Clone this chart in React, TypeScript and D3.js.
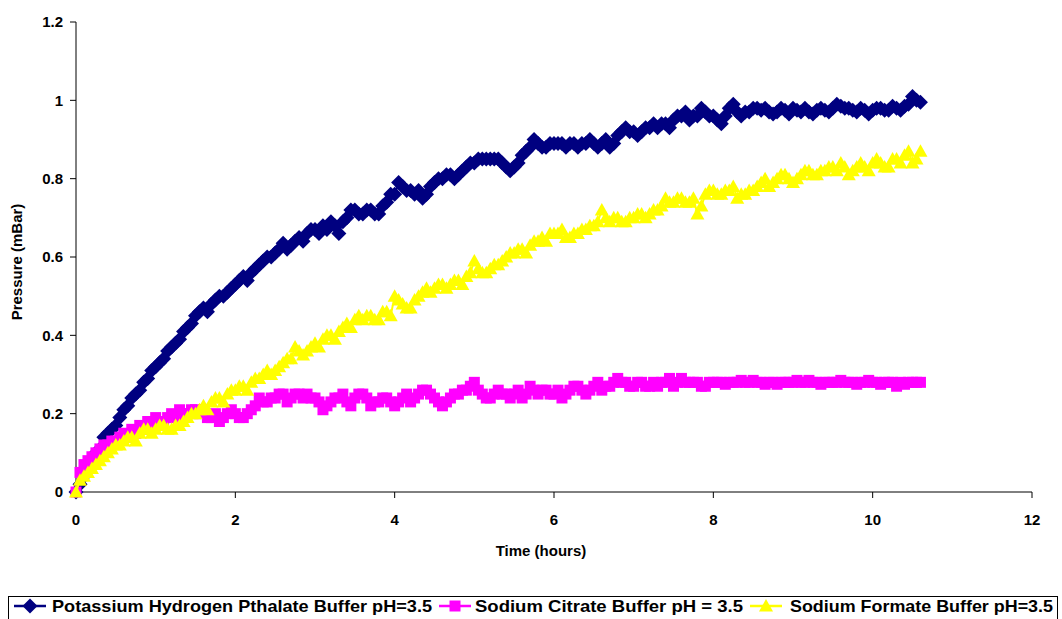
import React from "react";
import * as d3 from "d3";

// sample times (hours)
const times = [
  0.0, 0.05, 0.1, 0.15, 0.2, 0.25, 0.3, 0.35, 0.4, 0.45, 0.5, 0.55, 0.6, 0.65, 0.7, 0.75, 0.8, 0.85, 0.9, 0.95,
  1.0, 1.05, 1.1, 1.15, 1.2, 1.25, 1.3, 1.35, 1.4, 1.45, 1.5, 1.55, 1.6, 1.65, 1.7, 1.75, 1.8, 1.85, 1.9, 1.95,
  2.0, 2.05, 2.1, 2.15, 2.2, 2.25, 2.3, 2.35, 2.4, 2.45, 2.5, 2.55, 2.6, 2.65, 2.7, 2.75, 2.8, 2.85, 2.9, 2.95,
  3.0, 3.05, 3.1, 3.15, 3.2, 3.25, 3.3, 3.35, 3.4, 3.45, 3.5, 3.55, 3.6, 3.65, 3.7, 3.75, 3.8, 3.85, 3.9, 3.95,
  4.0, 4.05, 4.1, 4.15, 4.2, 4.25, 4.3, 4.35, 4.4, 4.45, 4.5, 4.55, 4.6, 4.65, 4.7, 4.75, 4.8, 4.85, 4.9, 4.95,
  5.0, 5.05, 5.1, 5.15, 5.2, 5.25, 5.3, 5.35, 5.4, 5.45, 5.5, 5.55, 5.6, 5.65, 5.7, 5.75, 5.8, 5.85, 5.9, 5.95,
  6.0, 6.05, 6.1, 6.15, 6.2, 6.25, 6.3, 6.35, 6.4, 6.45, 6.5, 6.55, 6.6, 6.65, 6.7, 6.75, 6.8, 6.85, 6.9, 6.95,
  7.0, 7.05, 7.1, 7.15, 7.2, 7.25, 7.3, 7.35, 7.4, 7.45, 7.5, 7.55, 7.6, 7.65, 7.7, 7.75, 7.8, 7.85, 7.9, 7.95,
  8.0, 8.05, 8.1, 8.15, 8.2, 8.25, 8.3, 8.35, 8.4, 8.45, 8.5, 8.55, 8.6, 8.65, 8.7, 8.75, 8.8, 8.85, 8.9, 8.95,
  9.0, 9.05, 9.1, 9.15, 9.2, 9.25, 9.3, 9.35, 9.4, 9.45, 9.5, 9.55, 9.6, 9.65, 9.7, 9.75, 9.8, 9.85, 9.9, 9.95,
  10.0, 10.05, 10.1, 10.15, 10.2, 10.25, 10.3, 10.35, 10.4, 10.45, 10.5, 10.55, 10.6,
];

// Potassium Hydrogen Pthalate (mBar)
const khpValues = [
  0.0, 0.02, 0.04, 0.06, 0.08, 0.1, 0.11, 0.14, 0.15, 0.16, 0.17, 0.19, 0.21, 0.22, 0.24, 0.25, 0.26, 0.28, 0.29, 0.31,
  0.32, 0.33, 0.34, 0.36, 0.37, 0.38, 0.39, 0.41, 0.42, 0.43, 0.45, 0.46, 0.47, 0.46, 0.48, 0.49, 0.5, 0.5, 0.51, 0.52,
  0.53, 0.54, 0.55, 0.54, 0.56, 0.57, 0.58, 0.59, 0.6, 0.6, 0.61, 0.62, 0.635, 0.62, 0.63, 0.64, 0.65, 0.64, 0.66, 0.67,
  0.67, 0.66, 0.68, 0.67, 0.69, 0.68, 0.66, 0.69, 0.7, 0.72, 0.72, 0.71, 0.71, 0.72, 0.72, 0.71, 0.71, 0.73, 0.74, 0.76,
  0.76, 0.79, 0.78, 0.77, 0.77, 0.76, 0.77, 0.75, 0.76, 0.78, 0.79, 0.8, 0.8, 0.81, 0.81, 0.8, 0.81, 0.82, 0.83, 0.84,
  0.84, 0.85, 0.85, 0.85, 0.85, 0.85, 0.85, 0.84, 0.83, 0.82, 0.83, 0.84, 0.86, 0.87, 0.88, 0.9, 0.89, 0.88, 0.88, 0.89,
  0.89, 0.89, 0.89, 0.88, 0.89, 0.89, 0.88, 0.89, 0.89, 0.9, 0.89, 0.88, 0.89, 0.9, 0.88, 0.89, 0.91, 0.92, 0.93, 0.92,
  0.92, 0.91, 0.92, 0.93, 0.93, 0.94, 0.93, 0.94, 0.94, 0.93, 0.95, 0.96, 0.96, 0.97, 0.95, 0.96, 0.96, 0.98, 0.97, 0.96,
  0.96, 0.95, 0.94, 0.96, 0.98, 0.99, 0.97, 0.96, 0.97, 0.97, 0.98, 0.98, 0.975, 0.98, 0.97, 0.965, 0.97, 0.98, 0.975, 0.965,
  0.98, 0.975, 0.97, 0.98, 0.97, 0.965, 0.975, 0.98, 0.975, 0.97, 0.98, 0.99, 0.985, 0.98, 0.98, 0.975, 0.97, 0.98, 0.975, 0.965,
  0.975, 0.98, 0.98, 0.975, 0.975, 0.985, 0.98, 0.975, 0.985, 0.99, 1.01, 1.0, 0.995,
];

// Sodium Citrate (mBar)
const citrateValues = [
  0.0, 0.05, 0.07, 0.08, 0.09, 0.1, 0.11, 0.12, 0.12, 0.13, 0.13, 0.14, 0.15, 0.14, 0.16, 0.15, 0.17, 0.16, 0.18, 0.17,
  0.19, 0.18, 0.17, 0.19, 0.2, 0.19, 0.21, 0.2, 0.2, 0.21, 0.21, 0.2, 0.21, 0.19, 0.19, 0.2, 0.18, 0.19, 0.2, 0.21,
  0.2, 0.19, 0.19, 0.2, 0.21, 0.22, 0.24, 0.23, 0.23, 0.24, 0.24, 0.25, 0.25, 0.23, 0.24, 0.25, 0.25, 0.24, 0.25, 0.24,
  0.24, 0.23, 0.21, 0.22, 0.23, 0.24, 0.24, 0.25, 0.23, 0.22, 0.24, 0.25, 0.25, 0.24, 0.22, 0.23, 0.23, 0.24, 0.24, 0.23,
  0.22, 0.23, 0.24, 0.25, 0.23, 0.24, 0.25, 0.26, 0.26, 0.25, 0.24, 0.23, 0.22, 0.23, 0.24, 0.25, 0.25, 0.26, 0.26, 0.27,
  0.28, 0.26, 0.25, 0.24, 0.24, 0.25, 0.26, 0.25, 0.25, 0.24, 0.25, 0.26, 0.24, 0.25, 0.27, 0.26, 0.25, 0.26, 0.26, 0.25,
  0.25, 0.26, 0.24, 0.25, 0.26, 0.27, 0.27, 0.26, 0.25, 0.26, 0.27, 0.28, 0.26, 0.27, 0.27, 0.28, 0.29, 0.28, 0.28, 0.27,
  0.27, 0.28, 0.28, 0.27, 0.27, 0.28, 0.27, 0.28, 0.28, 0.29, 0.27, 0.28, 0.29, 0.28, 0.28, 0.28, 0.28, 0.27, 0.27, 0.28,
  0.28, 0.28, 0.28, 0.275, 0.28, 0.28, 0.28, 0.285, 0.28, 0.28, 0.285, 0.28, 0.28, 0.275, 0.28, 0.28, 0.275, 0.28, 0.28, 0.28,
  0.28, 0.285, 0.28, 0.28, 0.285, 0.28, 0.28, 0.275, 0.28, 0.28, 0.28, 0.28, 0.285, 0.28, 0.28, 0.28, 0.275, 0.28, 0.28, 0.285,
  0.28, 0.28, 0.275, 0.28, 0.28, 0.28, 0.27, 0.28, 0.275, 0.28, 0.28, 0.28, 0.28,
];

// Sodium Formate (mBar)
const formateValues = [
  0.0, 0.03, 0.04, 0.05, 0.06, 0.07, 0.08, 0.09, 0.1, 0.11, 0.12, 0.12, 0.13, 0.14, 0.14, 0.13, 0.15, 0.16, 0.16, 0.15,
  0.16, 0.17, 0.17, 0.16, 0.16, 0.17, 0.17, 0.18, 0.19, 0.2, 0.2, 0.21, 0.22, 0.21, 0.23, 0.24, 0.24, 0.23, 0.25, 0.26,
  0.26, 0.27, 0.27, 0.26, 0.28, 0.29, 0.29, 0.3, 0.31, 0.3, 0.31, 0.32, 0.33, 0.34, 0.34, 0.37, 0.36, 0.35, 0.36, 0.37,
  0.38, 0.37, 0.39, 0.4, 0.4, 0.39, 0.41, 0.42, 0.43, 0.42, 0.44, 0.45, 0.44, 0.45, 0.45, 0.44, 0.44, 0.46, 0.46, 0.45,
  0.5, 0.49, 0.48, 0.47, 0.47, 0.49, 0.5, 0.51, 0.52, 0.51, 0.52, 0.53, 0.53, 0.52, 0.53, 0.54, 0.54, 0.53, 0.55, 0.56,
  0.59, 0.57, 0.56, 0.56, 0.57, 0.58, 0.58, 0.59, 0.6, 0.61, 0.61, 0.62, 0.62, 0.61, 0.63, 0.64, 0.64, 0.65, 0.64, 0.66,
  0.66, 0.66, 0.67, 0.65, 0.65, 0.66, 0.66, 0.67, 0.67, 0.68, 0.68, 0.69, 0.72, 0.7, 0.69, 0.7, 0.7, 0.69, 0.69, 0.7,
  0.7, 0.71, 0.71, 0.7, 0.71, 0.72, 0.72, 0.73, 0.75, 0.74, 0.74, 0.75, 0.75, 0.74, 0.74, 0.75, 0.71, 0.73, 0.76, 0.77,
  0.77, 0.76, 0.76, 0.77, 0.77, 0.78, 0.75, 0.76, 0.76, 0.77, 0.77, 0.78, 0.79, 0.8, 0.78, 0.79, 0.8, 0.81, 0.81, 0.8,
  0.79, 0.8, 0.81, 0.82, 0.82, 0.81, 0.81, 0.82, 0.82, 0.83, 0.83, 0.82, 0.84, 0.83, 0.81, 0.82, 0.83, 0.84, 0.83, 0.82,
  0.84, 0.85, 0.84, 0.83, 0.83, 0.85, 0.85, 0.84, 0.86, 0.87, 0.84, 0.85, 0.87,
];

const xTicks = [0, 2, 4, 6, 8, 10, 12];
const yTicks = [0, 0.2, 0.4, 0.6, 0.8, 1, 1.2];

const seriesNames = [
  "Potassium Hydrogen Pthalate Buffer pH=3.5",
  "Sodium Citrate Buffer pH = 3.5",
  "Sodium Formate Buffer pH=3.5",
];

const W = 1062;
const H = 619;
const FONT = "'Liberation Sans', Arial, sans-serif";

const x = d3.scaleLinear().domain([0, 12]).range([76, 1032]);
const y = d3.scaleLinear().domain([0, 1.2]).range([492, 22]);

const diamondPath = "M0,-7.5 L7.5,0 L0,7.5 L-7.5,0 Z";
const squarePath = "M-5.5,-5.5 L5.5,-5.5 L5.5,5.5 L-5.5,5.5 Z";
const trianglePath = "M0,-7 L7,5.5 L-7,5.5 Z";

const series = [
  { name: seriesNames[0], values: khpValues, color: "#000080", marker: diamondPath },
  { name: seriesNames[1], values: citrateValues, color: "#FF00FF", marker: squarePath },
  { name: seriesNames[2], values: formateValues, color: "#FFFF00", marker: trianglePath },
];

const legendItems = [
  { lineX: 14, textX: 52, textW: 380 },
  { lineX: 439, textX: 475, textW: 268 },
  { lineX: 750, textX: 790, textW: 263 },
];

export default function App() {
  const line = d3
    .line<number>()
    .x((_, i) => x(times[i]))
    .y((d) => y(d));

  return (
    <svg
      width={W}
      height={H}
      style={{ position: "absolute", left: 0, top: 0, background: "#fff" }}
      fontFamily={FONT}
    >
      <rect x={0} y={0} width={W} height={H} fill="#fff" />
      {/* axes */}
      <line x1={76} x2={76} y1={22} y2={492} stroke="#000" strokeWidth={1} />
      <line x1={76} x2={1032} y1={492} y2={492} stroke="#000" strokeWidth={1} />
      {yTicks.map((t) => (
        <g key={"y" + t}>
          <line x1={70} x2={76} y1={y(t)} y2={y(t)} stroke="#000" />
          <text x={63} y={y(t)} dy="0.36em" textAnchor="end" fontSize={15} fontWeight="bold">
            {d3.format("~g")(t)}
          </text>
        </g>
      ))}
      {xTicks.map((t) => (
        <g key={"x" + t}>
          <line x1={x(t)} x2={x(t)} y1={492} y2={498} stroke="#000" />
          <text x={x(t)} y={525} textAnchor="middle" fontSize={15} fontWeight="bold">
            {t}
          </text>
        </g>
      ))}
      <text x={541} y={556} textAnchor="middle" fontSize={15} fontWeight="bold">
        Time (hours)
      </text>
      <text transform={`translate(22,262) rotate(-90)`} textAnchor="middle" fontSize={15} fontWeight="bold">
        Pressure (mBar)
      </text>

      {/* series */}
      {series.map((s) => (
        <g key={s.name}>
          <path d={line(s.values) || ""} fill="none" stroke={s.color} strokeWidth={2} />
          {s.values.map((v, i) => (
            <path key={i} d={s.marker} transform={`translate(${x(times[i])},${y(v)})`} fill={s.color} />
          ))}
        </g>
      ))}

      {/* legend */}
      <rect x={8.5} y={596.5} width={1049} height={40} fill="#fff" stroke="#000" strokeWidth={1} />
      {series.map((s, i) => {
        const it = legendItems[i];
        return (
          <g key={"lg" + i}>
            <line x1={it.lineX} x2={it.lineX + 32} y1={606} y2={606} stroke={s.color} strokeWidth={2.5} />
            <path d={s.marker} transform={`translate(${it.lineX + 16},606)`} fill={s.color} />
            <text
              x={it.textX}
              y={612}
              fontSize={17}
              fontWeight="bold"
              textLength={it.textW}
              lengthAdjust="spacingAndGlyphs"
            >
              {s.name}
            </text>
          </g>
        );
      })}
    </svg>
  );
}
